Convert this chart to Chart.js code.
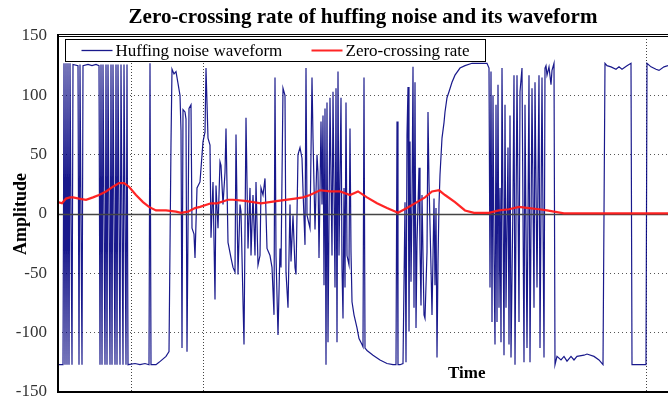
<!DOCTYPE html>
<html>
<head>
<meta charset="utf-8">
<script src="https://cdn.jsdelivr.net/npm/chart.js@4"></script>
<style>
  html, body { margin: 0; padding: 0; background: #fff; overflow: hidden; }
</style>
</head>
<body>
<canvas id="chart" width="668" height="401"></canvas>
<script>
// data (time in samples, amplitude in units)
const seriesNames = ['Huffing noise waveform', 'Zero-crossing rate'];

const waveTime = [
  0, 5, 6, 7, 8, 9, 10, 11, 12, 14, 15, 20, 21, 22, 24, 25, 30, 34, 38, 41,
  42, 43, 44, 45, 47, 48, 49, 50, 52, 53, 54, 55, 57, 58, 59, 60, 62, 63, 65, 66,
  68, 69, 70, 77, 82, 87, 91, 92, 93, 98, 101, 108, 111, 112, 113, 114, 116, 118, 120, 122,
  123, 124, 125, 127, 128, 129, 131, 133, 134, 136, 137, 139, 142, 145, 147, 148, 150, 152, 153, 155,
  157, 158, 160, 162, 163, 165, 167, 168, 170, 173, 175, 177, 178, 180, 182, 183, 185, 186, 188, 190,
  192, 193, 195, 197, 198, 200, 202, 203, 205, 207, 209, 212, 214, 216, 217, 218, 220, 222, 223, 225,
  227, 228, 230, 232, 233, 235, 237, 238, 240, 242, 244, 245, 247, 248, 249, 252, 254, 255, 257, 259,
  260, 261, 263, 264, 265, 266, 267, 268, 269, 270, 272, 274, 275, 277, 278, 279, 280, 281, 283, 284,
  285, 286, 287, 288, 289, 291, 292, 293, 294, 296, 299, 301, 304, 305, 306, 307, 309, 315, 322, 329,
  335, 338, 339, 340, 342, 345, 347, 348, 349, 350, 351, 352, 353, 354, 355, 356, 357, 358, 359, 361,
  362, 363, 364, 366, 367, 369, 370, 371, 373, 374, 376, 377, 378, 379, 380, 381, 382, 384, 386, 387,
  389, 391, 394, 397, 402, 407, 414, 429, 431, 432, 433, 434, 435, 436, 437, 438, 439, 440, 441, 442,
  443, 444, 446, 447, 448, 450, 451, 452, 453, 455, 456, 457, 459, 461, 462, 464, 466, 467, 469, 471,
  472, 474, 476, 477, 479, 481, 482, 484, 486, 487, 488, 489, 491, 493, 494, 496, 497, 499, 503, 506,
  509, 513, 516, 519, 526, 529, 536, 541, 545, 547, 549, 553, 558, 561, 564, 569, 573, 574, 579, 586,
  588, 589, 593, 598, 601, 606, 610, 615
];
const waveAmp = [
  -127, -127, 127, -127, 127, -127, 127, -127, 127, -127, 126, 125, -127, 126, -127, 125, 126, 125, 126, 125,
  -127, 126, -127, 126, -127, 126, -127, 126, -127, 126, -127, 126, -127, 126, -127, 126, -127, 126, -127, 126,
  -127, 126, -127, -126, -127, -126, -127, 127, -127, -127, -125, -120, -116, -28, 60, 122, 118, 120, 110, 100,
  70, -113, 88, 86, 80, -116, 89, 92, -12, -17, -37, 22, 27, 61, 69, 123, 64, 58, -20, 27,
  -72, 24, -12, 44, 41, 8, 35, 72, -24, -37, -45, -49, 67, -51, 8, 2, -74, -110, 81, -29,
  22, -35, 16, -35, 27, -43, -35, 22, 16, 30, -29, -35, -45, -85, 115, -35, -102, -29, -45, 106,
  100, -49, -79, 8, -40, -1, -45, -51, 50, 56, 47, 20, -26, 123, -1, -12, 115, 64, -13, 50,
  35, -37, 78, 8, 83, -60, 89, -127, 94, -108, 98, -35, 103, -62, 106, -108, 120, -35, 98, -45,
  -88, 22, -62, 94, -35, -43, 72, -32, -74, -85, -96, -105, -110, -112, 115, -113, -115, -119, -123, -126,
  -127, -127, 78, -127, -127, -126, 10, -125, 67, 107, -99, 61, -57, 10, 124, -79, 111, -96, -24, 39,
  -29, -77, 16, -85, -88, -32, 86, 27, -45, -85, 13, -60, 5, -121, -40, 8, 33, 64, 77, 86,
  98, 103, 111, 117, 123, 125, 127, 127, 123, -62, 120, -91, 100, -35, -110, 92, -91, 109, -79, 22,
  -108, 123, -119, 92, -79, 56, -110, 83, -121, 13, 117, -127, 117, -91, 103, 123, -125, 92, -113, 117,
  -125, 106, -79, 111, -62, 117, -113, 115, -121, 123, 125, 117, 124, 109, 121, 127, -127, -120, -123, -120,
  -124, -120, -123, -120, -119, -118, -120, -123, -127, 127, 125, 124, 122, 124, 122, 125, 127, -127, -127, -127,
  -127, 127, 124, 122, 121, 124, 125, 125
];

const zcrTime = [
  0, 4, 8, 12, 15, 21, 28, 35, 41, 48, 55, 61, 66, 71, 78, 85, 91, 98, 108, 118,
  123, 130, 137, 142, 153, 159, 170, 175, 187, 203, 220, 237, 245, 252, 262, 272, 282, 292, 300, 309,
  319, 329, 340, 349, 359, 367, 374, 381, 387, 397, 407, 416, 431, 441, 451, 461, 471, 481, 489, 496,
  506, 542, 610, 615
];
const zcrRate = [
  10, 9, 13, 14, 14, 13, 12, 14, 16, 19, 23, 26, 26, 23, 16, 10, 6, 3, 3, 2,
  1, 2, 5, 6, 9, 9, 12, 12, 11, 9, 11, 13, 14, 16, 20, 19, 19, 16, 19, 14,
  9, 5, 1, 5, 10, 14, 19, 20, 16, 10, 3, 1, 1, 3, 4, 6, 5, 4, 3, 2,
  0.5, 0.5, 0.5, 0.5
];

const yTicks = [-150, -100, -50, 0, 50, 100, 150];
const timeGrid = [73, 145, 588];

const serif = '"Liberation Serif", "Times New Roman", serif';

const decorPlugin = {
  id: 'decor',
  afterDatasetDraw(chart, args) {
    if (args.index !== 0) return;
    // zero line over the waveform, under the rate curve
    const { ctx, chartArea: a } = chart;
    const y0 = Math.round(chart.scales.y.getPixelForValue(0)) + 0.5;
    ctx.save();
    ctx.strokeStyle = '#444';
    ctx.lineWidth = 1.3;
    ctx.beginPath();
    ctx.moveTo(a.left, y0);
    ctx.lineTo(a.right, y0);
    ctx.stroke();
    ctx.restore();
  },
  afterDraw(chart) {
    const { ctx, chartArea: a } = chart;
    ctx.save();
    // frame
    ctx.strokeStyle = '#000';
    ctx.lineWidth = 2;
    ctx.beginPath();
    ctx.moveTo(a.left, a.top - 2);
    ctx.lineTo(a.left, a.bottom);
    ctx.lineTo(a.right, a.bottom);
    ctx.stroke();
    ctx.lineWidth = 1;
    ctx.beginPath();
    ctx.moveTo(a.left, a.top - 1.5);
    ctx.lineTo(a.right, a.top - 1.5);
    ctx.moveTo(a.left, a.top + 0.5);
    ctx.lineTo(a.right, a.top + 0.5);
    ctx.stroke();

    // title
    ctx.fillStyle = '#000';
    ctx.font = 'bold 21px ' + serif;
    ctx.textAlign = 'center';
    ctx.textBaseline = 'middle';
    ctx.fillText('Zero-crossing rate of huffing noise and its waveform', (a.left + a.right) / 2, 18);

    // legend box inside the plot
    const bx = a.left + 7.5, by = a.top + 3.5, bw = 420, bh = 22;
    ctx.fillStyle = '#fff';
    ctx.fillRect(bx, by, bw, bh);
    ctx.strokeStyle = '#000';
    ctx.lineWidth = 1;
    ctx.strokeRect(bx, by, bw, bh);
    const ly = by + bh / 2;
    const items = [[bx + 16, 0], [bx + 246, 1]];
    ctx.font = '17px ' + serif;
    ctx.textAlign = 'left';
    items.forEach(([x, i]) => {
      const ds = chart.data.datasets[i];
      ctx.strokeStyle = ds.borderColor;
      ctx.lineWidth = i === 0 ? 1.3 : 2;
      ctx.beginPath();
      ctx.moveTo(x, ly);
      ctx.lineTo(x + 31, ly);
      ctx.stroke();
      ctx.fillStyle = '#000';
      ctx.fillText(ds.label, x + 34, ly + 1);
    });

    // time label inside the plot
    ctx.font = 'bold 17px ' + serif;
    ctx.fillText('Time', 448, 374);
    ctx.restore();
  }
};

new Chart(document.getElementById('chart'), {
  type: 'line',
  data: {
    datasets: [{
      label: seriesNames[0],
      data: waveTime.map((t, i) => ({ x: t, y: waveAmp[i] })),
      borderColor: 'rgba(0, 0, 128, 0.9)',
      borderWidth: 1.2,
      pointRadius: 0,
      order: 2
    }, {
      label: seriesNames[1],
      data: zcrTime.map((t, i) => ({ x: t, y: zcrRate[i] })),
      borderColor: 'rgba(255, 25, 25, 0.95)',
      borderWidth: 2.2,
      pointRadius: 0,
      order: 1
    }]
  },
  options: {
    responsive: false,
    animation: false,
    layout: { padding: { top: 36, right: 0, bottom: 9, left: 0 } },
    plugins: {
      legend: { display: false },
      title: { display: false },
      tooltip: { enabled: false }
    },
    scales: {
      x: {
        type: 'linear',
        min: 0,
        max: 610,
        afterBuildTicks: scale => { scale.ticks = timeGrid.map(v => ({ value: v })); },
        afterFit: scale => {
          scale.height = 0;
          scale.paddingLeft = 0;
          scale.paddingRight = 0;
        },
        ticks: { display: false },
        grid: { drawTicks: false, color: '#444', lineWidth: 1 },
        border: { display: false, dash: [1, 2] }
      },
      y: {
        min: -150,
        max: 150,
        afterBuildTicks: scale => { scale.ticks = yTicks.map(v => ({ value: v })); },
        afterFit: scale => {
          scale.width = 58;
          scale.paddingTop = 0;
          scale.paddingBottom = 0;
        },
        ticks: { color: '#333', padding: 11, font: { family: serif, size: 17 } },
        grid: {
          drawTicks: false,
          color: ctx => (ctx.tick && Math.abs(ctx.tick.value) % 150 === 0) ? 'rgba(0,0,0,0)' : '#555'
        },
        border: { display: false, dash: [1, 3] },
        title: {
          display: true,
          text: 'Amplitude',
          color: '#000',
          font: { family: serif, size: 18, weight: 'bold' },
          padding: { top: 11, bottom: 0 }
        }
      }
    }
  },
  plugins: [decorPlugin]
});
</script>
</body>
</html>
